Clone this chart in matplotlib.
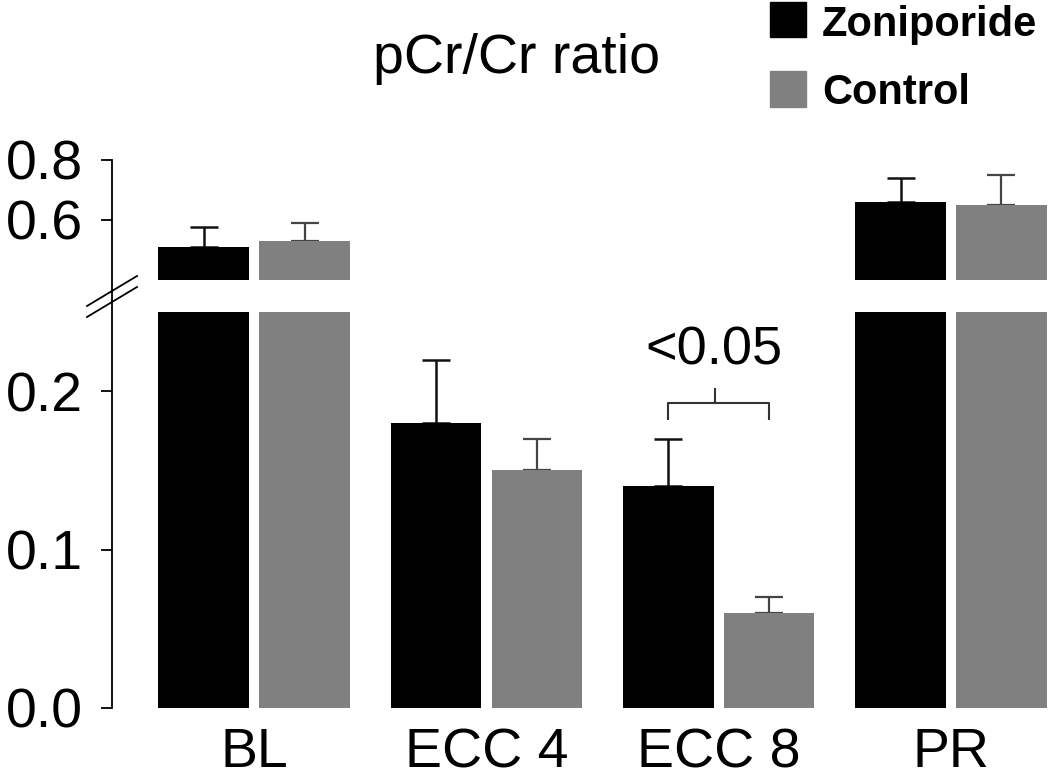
import matplotlib
matplotlib.use("Agg")
import matplotlib.pyplot as plt
from matplotlib.lines import Line2D
from matplotlib.patches import Rectangle
import numpy as np

plt.rcParams['font.family'] = ['Liberation Sans', 'DejaVu Sans']

categories = ["BL", "ECC 4", "ECC 8", "PR"]
zoniporide = [0.51, 0.18, 0.14, 0.66]
zoniporide_err = [0.065, 0.04, 0.03, 0.08]
control = [0.53, 0.15, 0.06, 0.65]
control_err = [0.06, 0.02, 0.01, 0.10]
upper_ticks = [0.6, 0.8]
lower_ticks = [0.0, 0.1, 0.2]
p_label = "<0.05"

W, H = 1050, 782
fig = plt.figure(figsize=(W / 100, H / 100), dpi=100)

def fx(px):
    return px / W

def fy(py):
    return 1 - py / H

left_px, right_px = 112, 1050
ax_up = fig.add_axes([fx(left_px), fy(280), fx(right_px - left_px), (280 - 160) / H])
ax_lo = fig.add_axes([fx(left_px), fy(708), fx(right_px - left_px), (708 - 312) / H])

x = np.arange(len(categories))
bw = 0.39
off = 0.217
zcol = "black"
ccol = "#808080"

for ax in (ax_up, ax_lo):
    ax.bar(x - off, zoniporide, bw, color=zcol, zorder=2)
    ax.bar(x + off, control, bw, color=ccol, zorder=2)
    ax.errorbar(x - off, zoniporide, yerr=[np.zeros(len(x)), zoniporide_err], fmt="none",
                ecolor="#111111", elinewidth=1.8, capsize=10, capthick=1.8, zorder=1)
    ax.errorbar(x + off, control, yerr=[np.zeros(len(x)), control_err], fmt="none",
                ecolor="#444444", elinewidth=1.6, capsize=10, capthick=1.6, zorder=1)
    ax.set_xlim(-0.612, 3.426)
    for s in ("top", "right", "bottom"):
        ax.spines[s].set_visible(False)
    ax.spines["left"].set_linewidth(1.3)
    ax.tick_params(axis="y", direction="out", length=8, width=1.3, pad=13, labelsize=40)

ax_up.set_ylim(0.4, 0.8)
ax_up.set_yticks(upper_ticks)
ax_up.set_yticklabels([f"{t:.1f}" for t in upper_ticks])
ax_up.set_xticks([])
ax_up.spines["left"].set_visible(False)

ax_lo.set_ylim(0, 0.25)
ax_lo.set_yticks(lower_ticks)
ax_lo.set_yticklabels([f"{t:.1f}" for t in lower_ticks])
ax_lo.spines["left"].set_visible(False)
ax_lo.set_xticks(x)
ax_lo.set_xticklabels(categories)
ax_lo.tick_params(axis="x", length=0, pad=14, labelsize=40)

# continuous left spine
fig.add_artist(Line2D([fx(left_px), fx(left_px)], [fy(160), fy(708)], color="black", lw=1.3))
# break marks
for y0 in (291, 302):
    fig.add_artist(Line2D([fx(87), fx(137)], [fy(y0 + 15), fy(y0 - 15)], color="black", lw=1.3))

# significance bracket on ECC 8
bx0, bx1 = 2 - off, 2 + off
ax_lo.plot([bx0, bx0, bx1, bx1], [0.1824, 0.1925, 0.1925, 0.1824], color="#333333", lw=1.5, clip_on=False)
ax_lo.plot([2 - 0.017, 2 - 0.017], [0.1925, 0.2013], color="#333333", lw=1.5, clip_on=False)
ax_lo.text(2 - 0.02, 0.217, p_label, ha="center", va="baseline", fontsize=39)

# title
fig.text(fx(517), fy(73), "pCr/Cr ratio", ha="center", va="baseline", fontsize=40)

# legend
fig.add_artist(Rectangle((fx(770), fy(37)), fx(36), 35 / H, color=zcol, transform=fig.transFigure))
fig.add_artist(Rectangle((fx(770), fy(107)), fx(36), 36 / H, color=ccol, transform=fig.transFigure))
fig.text(fx(822), fy(36), "Zoniporide", ha="left", va="baseline", fontsize=30, fontweight="bold")
fig.text(fx(822), fy(104), "Control", ha="left", va="baseline", fontsize=30, fontweight="bold")

fig.savefig("out.png", dpi=100)
